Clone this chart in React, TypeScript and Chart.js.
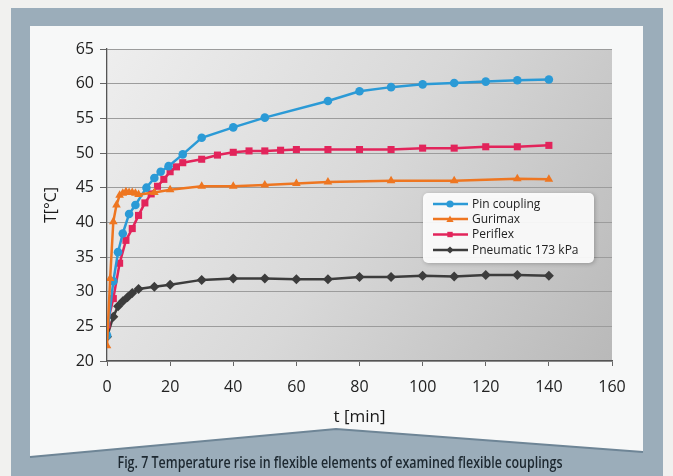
import React, { useEffect, useRef } from 'react';
import { Chart, registerables } from 'chart.js';

Chart.register(...registerables);

// ---- data ----
const seriesNames = ['Pin coupling', 'Gurimax', 'Periflex', 'Pneumatic 173 kPa'];

const tPin = [0, 2, 3.5, 5, 7, 9, 12.5, 15, 17, 19.5, 24, 30, 40, 50, 70, 80, 90, 100, 110, 120, 130, 140];
const vPin = [23.7, 31.5, 35.7, 38.4, 41.2, 42.5, 45.0, 46.4, 47.3, 48.1, 49.8, 52.2, 53.7, 55.1, 57.5, 58.9, 59.5, 59.9, 60.1, 60.3, 60.5, 60.6];

const tGuri = [0, 1, 2, 3, 4, 5, 6, 7, 8, 9, 10, 15, 20, 30, 40, 50, 60, 70, 90, 110, 130, 140];
const vGuri = [22.2, 31.9, 40.1, 42.5, 43.9, 44.2, 44.4, 44.3, 44.3, 44.2, 44.0, 44.3, 44.7, 45.2, 45.2, 45.4, 45.6, 45.8, 46.0, 46.0, 46.3, 46.2];

const tPeri = [0, 2, 4, 6, 8, 10, 12, 14, 16, 18, 20, 22, 24, 30, 35, 40, 45, 50, 55, 60, 70, 80, 90, 100, 110, 120, 130, 140];
const vPeri = [25.2, 29.0, 34.1, 37.4, 39.1, 41.0, 42.8, 44.1, 45.2, 46.2, 47.3, 48.0, 48.6, 49.1, 49.7, 50.1, 50.3, 50.3, 50.4, 50.5, 50.5, 50.5, 50.5, 50.7, 50.7, 50.9, 50.9, 51.1];

const tPneu = [0, 2, 3.5, 5, 6.5, 8, 10, 15, 20, 30, 40, 50, 60, 70, 80, 90, 100, 110, 120, 130, 140];
const vPneu = [23.5, 26.4, 27.9, 28.6, 29.2, 29.8, 30.4, 30.7, 31.0, 31.7, 31.9, 31.9, 31.8, 31.8, 32.1, 32.1, 32.3, 32.2, 32.4, 32.4, 32.3];

const xMin = 0, xMax = 160, xStep = 20;
const yMin = 20, yMax = 65, yStep = 5;

const xTitle = 't [min]';
const yTitle = 'T[°C]';
const caption = 'Fig. 7 Temperature rise in flexible elements of examined flexible couplings';

const colors = ['#2b9ad6', '#ee7621', '#e2245b', '#3c3c3c'];
const styles = ['circle', 'triangle', 'rect', 'rectRot'];
const radii = [4.3, 5, 5, 5];

const FONT = '"Open Sans", "Noto Sans", sans-serif';

function toPts(t: number[], v: number[]) {
  return t.map((x, i) => ({ x, y: v[i] }));
}

function drawMarker(ctx: CanvasRenderingContext2D, style: string, x: number, y: number, r: number, color: string) {
  ctx.fillStyle = color;
  ctx.beginPath();
  if (style === 'circle') {
    ctx.arc(x, y, r, 0, Math.PI * 2);
  } else if (style === 'triangle') {
    ctx.moveTo(x, y - r);
    ctx.lineTo(x + r, y + r * 0.8);
    ctx.lineTo(x - r, y + r * 0.8);
    ctx.closePath();
  } else if (style === 'rect') {
    const s = r * 0.75;
    ctx.rect(x - s, y - s, 2 * s, 2 * s);
  } else {
    ctx.moveTo(x, y - r);
    ctx.lineTo(x + r, y);
    ctx.lineTo(x, y + r);
    ctx.lineTo(x - r, y);
    ctx.closePath();
  }
  ctx.fill();
}

const backdrop = {
  id: 'backdrop',
  beforeDraw(chart: any) {
    const { ctx, chartArea: a, width, height } = chart;
    ctx.save();
    // page
    ctx.fillStyle = '#f1f1ef';
    ctx.fillRect(0, 0, width, height);
    // frame
    ctx.fillStyle = '#9badba';
    ctx.fillRect(11, 8, 652, height - 8);
    // inner panel with chevron bottom
    ctx.fillStyle = '#f7f8f8';
    ctx.beginPath();
    ctx.moveTo(30, 26);
    ctx.lineTo(643, 26);
    ctx.lineTo(643, 452);
    ctx.lineTo(336, 429);
    ctx.lineTo(30, 457);
    ctx.closePath();
    ctx.fill();
    ctx.strokeStyle = '#6e8596';
    ctx.lineWidth = 2;
    ctx.beginPath();
    ctx.moveTo(30, 457);
    ctx.lineTo(336, 429);
    ctx.lineTo(643, 452);
    ctx.stroke();
    // plot background gradient
    const g = ctx.createLinearGradient(a.left, a.top, a.right, a.bottom);
    g.addColorStop(0, '#eeeeee');
    g.addColorStop(0.5, '#d8d8d8');
    g.addColorStop(1, '#b9b9b9');
    ctx.fillStyle = g;
    ctx.fillRect(a.left, a.top, a.right - a.left, a.bottom - a.top);
    ctx.restore();
  },
  afterDraw(chart: any) {
    const { ctx } = chart;
    ctx.save();
    // caption
    ctx.font = `600 16px ${FONT}`;
    ctx.fillStyle = '#1d2830';
    ctx.textAlign = 'center';
    ctx.textBaseline = 'middle';
    const w = ctx.measureText(caption).width;
    const sx = 445 / w;
    ctx.translate(340, 463);
    ctx.scale(sx, 1);
    ctx.fillText(caption, 0, 0);
    ctx.restore();

    // legend
    ctx.save();
    const bx = 423, by = 193, bw = 171, bh = 70;
    ctx.shadowColor = 'rgba(0,0,0,0.25)';
    ctx.shadowBlur = 4;
    ctx.shadowOffsetX = 1;
    ctx.shadowOffsetY = 1;
    ctx.fillStyle = 'rgba(255,255,255,0.92)';
    ctx.beginPath();
    (ctx as any).roundRect(bx, by, bw, bh, 5);
    ctx.fill();
    ctx.restore();
    ctx.save();
    const rows = [204, 219, 234.5, 250];
    ctx.font = `500 12px ${FONT}`;
    ctx.textAlign = 'left';
    ctx.textBaseline = 'middle';
    seriesNames.forEach((name, i) => {
      const y = rows[i];
      ctx.strokeStyle = colors[i];
      ctx.lineWidth = 2.5;
      ctx.beginPath();
      ctx.moveTo(433, y);
      ctx.lineTo(468, y);
      ctx.stroke();
      drawMarker(ctx, styles[i], 450, y, 3.6, colors[i]);
      ctx.fillStyle = '#222';
      ctx.fillText(name, 472, y + 0.5);
    });
    ctx.restore();
  },
};

export default function App() {
  const ref = useRef<HTMLCanvasElement | null>(null);
  useEffect(() => {
    document.body.style.margin = '0';
    const canvas = ref.current!;
    const sets = [toPts(tPin, vPin), toPts(tGuri, vGuri), toPts(tPeri, vPeri), toPts(tPneu, vPneu)];
    const chart = new Chart(canvas, {
      type: 'line',
      data: {
        datasets: sets.map((d, i) => ({
          label: seriesNames[i],
          data: d,
          borderColor: colors[i],
          backgroundColor: colors[i],
          borderWidth: 2.5,
          pointStyle: styles[i] as any,
          pointRadius: radii[i],
          pointBorderWidth: 0,
          pointBackgroundColor: colors[i],
          tension: 0,
          fill: false,
          order: [2, 1, 3, 4][i],
        })),
      },
      options: {
        responsive: false,
        animation: false,
        events: [],
        layout: { padding: { left: 38, top: 49, right: 61, bottom: 45 } },
        plugins: {
          legend: { display: false },
          tooltip: { enabled: false },
        },
        scales: {
          x: {
            type: 'linear',
            min: xMin,
            max: xMax,
            ticks: { stepSize: xStep, color: '#222', font: { family: FONT, size: 16, weight: '500' }, padding: 12 },
            grid: { drawOnChartArea: false, tickLength: 5, color: '#666' },
            border: { color: '#555', width: 1.3 },
            title: { display: true, text: xTitle, color: '#1a1a1a', font: { family: FONT, size: 17, weight: '500' }, padding: { top: 4, bottom: 4 } },
            afterFit: (s: any) => { s.height = 70; },
          },
          y: {
            type: 'linear',
            min: yMin,
            max: yMax,
            ticks: { stepSize: yStep, color: '#222', font: { family: FONT, size: 16, weight: '500' }, padding: 6 },
            grid: { color: '#9c9c9c', tickLength: 7, tickColor: '#666', lineWidth: 1 },
            border: { color: '#555', width: 1.3 },
            title: { display: true, text: yTitle, color: '#1a1a1a', font: { family: FONT, size: 16, weight: '500' }, padding: { top: 4, bottom: 4 } },
            afterFit: (s: any) => { s.width = 69; },
          },
        },
      },
      plugins: [backdrop],
    });
    return () => chart.destroy();
  }, []);
  return (
    <div style={{ position: 'fixed', left: 0, top: 0, width: 673, height: 476 }}>
      <canvas ref={ref} width={673} height={476} style={{ display: 'block' }} />
    </div>
  );
}
